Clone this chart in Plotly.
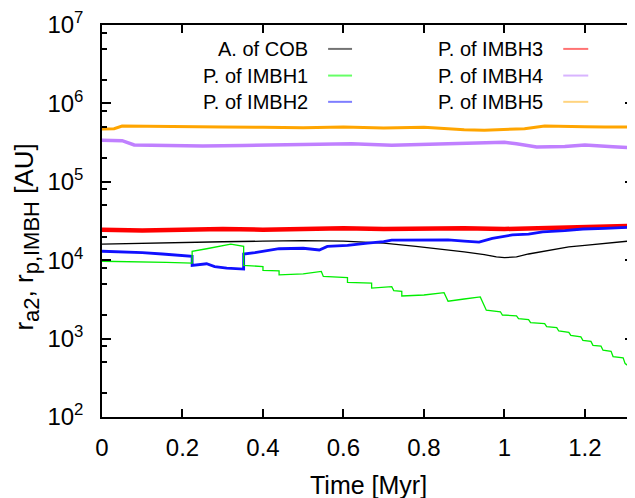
import plotly.graph_objects as go

# ---------------- data ----------------
t_cob = [0, 0.1, 0.2, 0.3, 0.4, 0.5, 0.6, 0.7, 0.78, 0.85, 0.9, 0.95, 0.98, 1.0, 1.03, 1.06, 1.1, 1.16, 1.2, 1.25, 1.322]
v_cob = [1.6e4, 1.65e4, 1.68e4, 1.72e4, 1.75e4, 1.78e4, 1.75e4, 1.65e4, 1.5e4, 1.38e4, 1.28e4, 1.18e4, 1.1e4, 1.08e4,
         1.1e4, 1.2e4, 1.3e4, 1.48e4, 1.55e4, 1.65e4, 1.78e4]

t_imbh1 = [0, 0.08, 0.16, 0.224, 0.224, 0.26, 0.29, 0.32, 0.352, 0.352, 0.40, 0.40, 0.44, 0.44, 0.50, 0.545, 0.55,
           0.61, 0.61, 0.67, 0.67, 0.72, 0.725, 0.745, 0.745, 0.80, 0.85, 0.86, 0.90, 0.94, 0.955, 0.99, 0.995,
           1.03, 1.035, 1.06, 1.065, 1.10, 1.105, 1.13, 1.135, 1.16, 1.165, 1.19, 1.195, 1.215, 1.22, 1.24, 1.245,
           1.265, 1.27, 1.295, 1.30, 1.322]
v_imbh1 = [9.7e3, 9.6e3, 9.4e3, 9.2e3, 1.3e4, 1.4e4, 1.5e4, 1.6e4, 1.5e4, 8.6e3, 8.3e3, 7.4e3, 7.3e3, 6.5e3, 6.7e3,
           7.2e3, 6.2e3, 6.0e3, 5.2e3, 5.1e3, 4.4e3, 4.6e3, 4.1e3, 4.0e3, 3.5e3, 3.6e3, 3.85e3, 3.0e3, 3.2e3, 3.4e3,
           2.3e3, 2.2e3, 2.0e3, 1.95e3, 1.8e3, 1.75e3, 1.6e3, 1.55e3, 1.42e3, 1.38e3, 1.25e3, 1.2e3, 1.1e3, 1.05e3,
           950, 920, 820, 800, 710, 690, 590, 570, 480, 400]

t_imbh2 = [0, 0.05, 0.1, 0.15, 0.2, 0.224, 0.224, 0.26, 0.28, 0.31, 0.352, 0.352, 0.38, 0.405, 0.44, 0.5, 0.54,
           0.56, 0.61, 0.66, 0.7, 0.72, 0.8, 0.86, 0.9, 0.937, 0.97, 1.02, 1.06, 1.095, 1.15, 1.195, 1.25, 1.322]
v_imbh2 = [1.3e4, 1.28e4, 1.25e4, 1.2e4, 1.15e4, 1.12e4, 8.6e3, 9.0e3, 8.3e3, 7.9e3, 7.7e3, 1.2e4, 1.25e4, 1.3e4,
           1.4e4, 1.42e4, 1.35e4, 1.5e4, 1.55e4, 1.65e4, 1.72e4, 1.8e4, 1.82e4, 1.82e4, 1.75e4, 1.7e4, 1.9e4,
           2.1e4, 2.15e4, 2.3e4, 2.38e4, 2.5e4, 2.55e4, 2.65e4]

t_imbh3 = [0, 0.1, 0.2, 0.3, 0.4, 0.5, 0.6, 0.7, 0.8, 0.9, 1.0, 1.1, 1.2, 1.322]
v_imbh3 = [2.45e4, 2.4e4, 2.45e4, 2.5e4, 2.45e4, 2.5e4, 2.55e4, 2.5e4, 2.55e4, 2.55e4, 2.5e4, 2.6e4, 2.65e4, 2.75e4]

t_imbh4 = [0, 0.05, 0.08, 0.15, 0.25, 0.35, 0.45, 0.55, 0.62, 0.72, 0.8, 0.88, 0.95, 1.0, 1.03, 1.08, 1.15, 1.2,
           1.27, 1.322]
v_imbh4 = [3.38e5, 3.35e5, 2.95e5, 2.92e5, 2.86e5, 2.9e5, 2.95e5, 3.0e5, 3.05e5, 2.92e5, 3.0e5, 3.08e5, 3.15e5,
           3.2e5, 3.05e5, 2.78e5, 2.82e5, 2.95e5, 2.8e5, 2.72e5]

t_imbh5 = [0, 0.03, 0.05, 0.1, 0.2, 0.3, 0.4, 0.5, 0.6, 0.7, 0.8, 0.9, 0.95, 1.0, 1.05, 1.1, 1.15, 1.2, 1.25, 1.322]
v_imbh5 = [4.7e5, 4.75e5, 5.15e5, 5.1e5, 5.05e5, 5.0e5, 4.95e5, 4.9e5, 5.0e5, 4.85e5, 4.95e5, 4.6e5, 4.55e5,
           4.6e5, 4.75e5, 5.15e5, 5.05e5, 5.05e5, 5.0e5, 5.0e5]

x_ticks = [0, 0.2, 0.4, 0.6, 0.8, 1.0, 1.2]
x_ticktext = ["0", "0.2", "0.4", "0.6", "0.8", "1", "1.2"]
y_ticks = [1e2, 1e3, 1e4, 1e5, 1e6, 1e7]
y_ticktext = ["10<sup>2</sup>", "10<sup>3</sup>", "10<sup>4</sup>", "10<sup>5</sup>", "10<sup>6</sup>", "10<sup>7</sup>"]
y_minor = [m * 10 ** k for k in range(2, 7) for m in (2, 5, 8)]

legend_names = ["A. of COB", "P. of IMBH1", "P. of IMBH2", "P. of IMBH3", "P. of IMBH4", "P. of IMBH5"]

# ---------------- styling ----------------
FONT = "Liberation Sans, Arial, Helvetica, sans-serif"
series = [
    (t_cob, v_cob, "#000000", 1.3, "rgba(0,0,0,0.55)"),
    (t_imbh1, v_imbh1, "#00ee00", 1.3, "rgba(0,255,0,0.6)"),
    (t_imbh2, v_imbh2, "#1010ff", 2.8, "rgba(40,40,255,0.6)"),
    (t_imbh3, v_imbh3, "#ff0000", 4.5, "rgba(255,0,0,0.55)"),
    (t_imbh4, v_imbh4, "#c080ff", 3.5, "rgba(190,130,255,0.6)"),
    (t_imbh5, v_imbh5, "#ffa500", 3.0, "rgba(255,170,0,0.5)"),
]

fig = go.Figure()
order = [4, 5, 3, 0, 2, 1]
for i in order:
    t, v, col, w, _ = series[i]
    fig.add_trace(go.Scatter(x=t, y=v, mode="lines", name=legend_names[i],
                             line=dict(color=col, width=w), showlegend=False))

# manual gnuplot-style legend (text right-aligned, sample to the right)
row_y = [0.939, 0.871, 0.804]
col_text_x = [0.391, 0.833]
col_line_x = [(0.425, 0.470), (0.867, 0.914)]
annotations = []
shapes = []
for i, name in enumerate(legend_names):
    c, r = divmod(i, 3)
    annotations.append(dict(x=col_text_x[c], y=row_y[r], xref="paper", yref="paper", text=name,
                            showarrow=False, xanchor="right", yanchor="middle",
                            font=dict(family=FONT, size=20, color="black")))
    shapes.append(dict(type="line", xref="paper", yref="paper", x0=col_line_x[c][0], x1=col_line_x[c][1],
                       y0=row_y[r], y1=row_y[r], line=dict(color=series[i][4], width=2)))

annotations.append(dict(x=0.5, y=-0.1735, xref="paper", yref="paper", text="Time [Myr]", showarrow=False,
                        xanchor="center", yanchor="middle", font=dict(family=FONT, size=25, color="black")))
ytitle = ('r<sub><span style="font-size:22px">a2</span></sub>, '
          'r<sub><span style="font-size:22px">p,IMBH</span></sub> [AU]')
annotations.append(dict(x=-0.143, y=0.46, xref="paper", yref="paper", textangle=-90,
                        text=ytitle, showarrow=False,
                        xanchor="center", yanchor="middle", font=dict(family=FONT, size=26, color="black")))

# the page body adds an 8px offset, so the figure is 8px smaller and margins shifted
fig.update_layout(
    width=627, height=490,
    margin=dict(l=94, r=1, t=17, b=81, autoexpand=False),
    paper_bgcolor="white", plot_bgcolor="white",
    showlegend=False,
    annotations=annotations,
    shapes=shapes,
    font=dict(family=FONT, size=24, color="black"),
)
fig.update_xaxes(range=[0, 1.322], tickmode="array", tickvals=x_ticks, ticktext=x_ticktext,
                 ticks="inside", ticklen=8, tickwidth=1.5, tickcolor="black", automargin=False,
                 showline=True, linecolor="black", linewidth=1.5, mirror="ticks",
                 showgrid=False, zeroline=False, ticklabelstandoff=8,
                 tickfont=dict(family=FONT, size=24, color="black"))
fig.update_yaxes(type="log", range=[2, 7], tickmode="array", tickvals=y_ticks, ticktext=y_ticktext,
                 ticks="inside", ticklen=9, tickwidth=1.5, tickcolor="black", automargin=False,
                 showline=True, linecolor="black", linewidth=1.5, mirror="ticks",
                 showgrid=False, zeroline=False, ticklabelstandoff=12,
                 tickfont=dict(family=FONT, size=24, color="black"),
                 minor=dict(tickmode="array", tickvals=y_minor, ticks="inside", ticklen=5,
                            tickwidth=1.5, tickcolor="black", showgrid=False))

fig.write_html("out.html")
